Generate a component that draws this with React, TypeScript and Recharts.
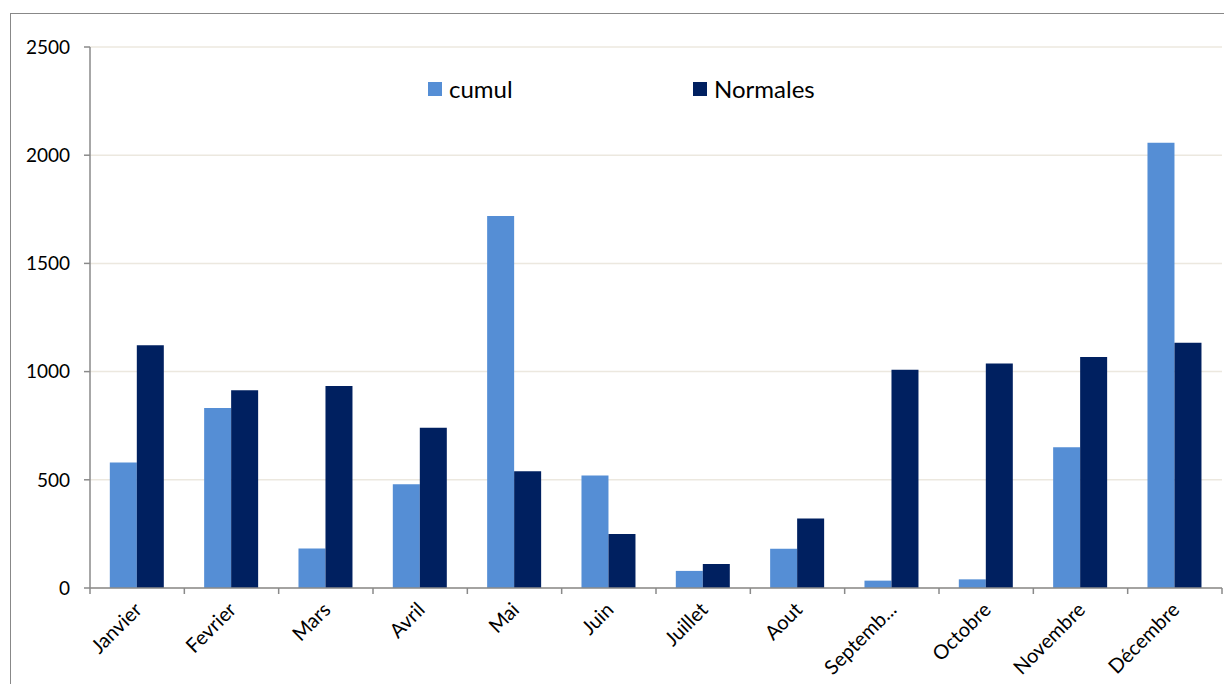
import React from 'react';
import { BarChart, Bar, XAxis, YAxis, CartesianGrid } from 'recharts';

const months = ['Janvier', 'Fevrier', 'Mars', 'Avril', 'Mai', 'Juin', 'Juillet', 'Aout', 'Septemb...', 'Octobre', 'Novembre', 'Décembre'];
const cumul = [580, 832, 182, 479, 1719, 520, 79, 181, 34, 40, 650, 2057];
const normales = [1122, 914, 934, 741, 540, 249, 111, 321, 1008, 1037, 1068, 1133];
const yTicks = [0, 500, 1000, 1500, 2000, 2500];

const series = [
  { key: 'cumul', name: 'cumul', color: '#558ed5' },
  { key: 'normales', name: 'Normales', color: '#002060' },
];

const data = months.map((m, i) => ({ month: m, cumul: cumul[i], normales: normales[i] }));

const FONT = 'Lato, "Liberation Sans", sans-serif';
const AXIS = '#8a8a8a';

function MonthTick(props: any) {
  const { x, y, payload, index, visibleTicksCount } = props;
  const half = payload.offset || 47.17;
  const last = index === visibleTicksCount - 1;
  const tx = x + 6;
  const ty = y + 23;
  return (
    <g>
      <line x1={x - half} x2={x - half} y1={y} y2={y + 6} stroke={AXIS} strokeWidth={1.5} />
      {last && <line x1={x + half} x2={x + half} y1={y} y2={y + 6} stroke={AXIS} strokeWidth={1.5} />}
      <text
        x={tx}
        y={ty}
        transform={`rotate(-45, ${tx}, ${ty})`}
        textAnchor="end"
        fontSize={20}
        fontFamily={FONT}
        fill="#000"
      >
        {payload.value}
      </text>
    </g>
  );
}

export default function App() {
  return (
    <div style={{ position: 'fixed', left: 0, top: 0, width: 1224, height: 684, background: '#fff', overflow: 'hidden' }}>
      <div style={{ position: 'absolute', left: 10, top: 13, width: 1400, height: 900, border: '1px solid #888', boxSizing: 'border-box' }} />
      <div style={{ position: 'absolute', left: 0, top: 0 }}>
        <BarChart
          width={1224}
          height={684}
          data={data}
          margin={{ top: 47, right: 2, left: 10, bottom: 0 }}
          barCategoryGap="21%"
          barGap={0}
        >
          <CartesianGrid vertical={false} stroke="#ece8df" strokeWidth={1.5} />
          <XAxis
            dataKey="month"
            height={96}
            interval={0}
            tick={<MonthTick />}
            tickSize={0}
            tickMargin={0}
            tickLine={false}
            axisLine={{ stroke: AXIS, strokeWidth: 1.5 }}
          />
          <YAxis
            width={80}
            domain={[0, 2500]}
            ticks={yTicks}
            tickSize={6}
            tickMargin={14}
            tick={{ fontSize: 19, fontFamily: FONT, fill: '#000' }}
            tickLine={{ stroke: AXIS, strokeWidth: 1.5 }}
            axisLine={{ stroke: AXIS, strokeWidth: 1.5 }}
          />
          {series.map(s => (
            <Bar key={s.key} dataKey={s.key} name={s.name} fill={s.color} isAnimationActive={false} />
          ))}
        </BarChart>
      </div>
      <div style={{ position: 'absolute', left: 428, top: 74, display: 'flex', fontFamily: FONT, fontSize: 24, color: '#000' }}>
        {series.map(s => (
          <div key={s.key} style={{ width: 265, display: 'flex', alignItems: 'center' }}>
            <span style={{ width: 14, height: 14, background: s.color, marginRight: 7, display: 'inline-block' }} />
            <span>{s.name}</span>
          </div>
        ))}
      </div>
    </div>
  );
}
